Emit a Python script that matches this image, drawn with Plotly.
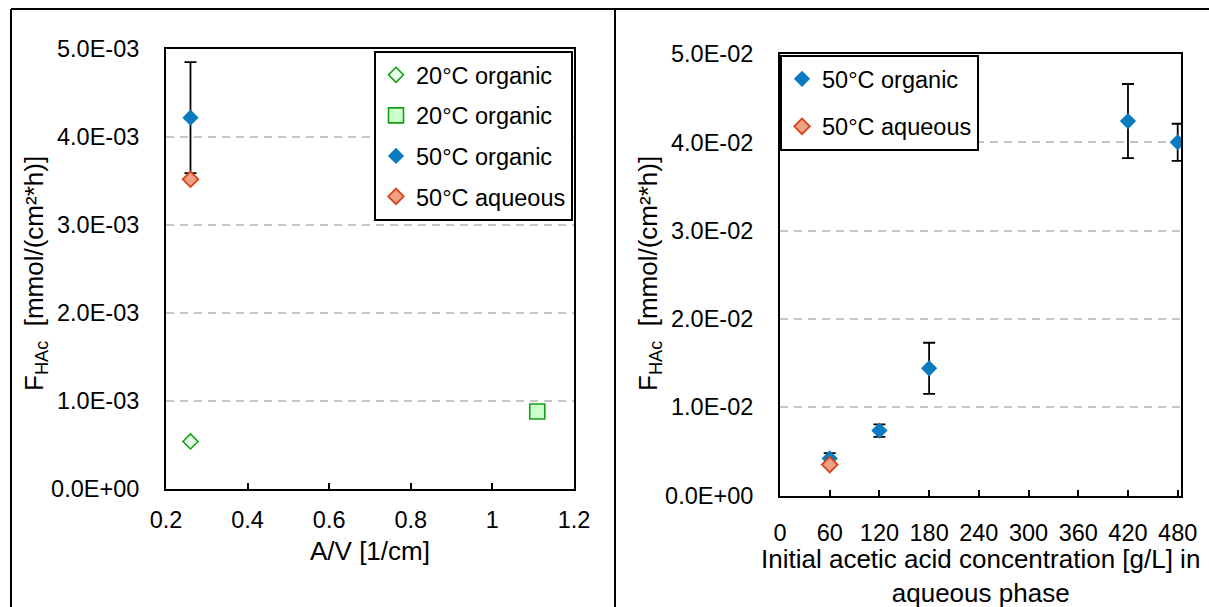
import plotly.graph_objects as go

W, H = 1209, 607

# ---- left panel: flux vs. area-to-volume ratio ----
av_20_dia = [0.26]
flux_20_dia = [5.4e-4]
av_20_sq = [1.11]
flux_20_sq = [8.8e-4]
av_50_org = [0.26]
flux_50_org = [4.22e-3]
err_50_org = [6.3e-4]
av_50_aq = [0.26]
flux_50_aq = [3.52e-3]

left_xticks = [0.2, 0.4, 0.6, 0.8, 1.0, 1.2]
left_xlabels = ["0.2", "0.4", "0.6", "0.8", "1", "1.2"]
left_yticks = [0, 1e-3, 2e-3, 3e-3, 4e-3, 5e-3]
left_ylabels = ["0.0E+00", "1.0E-03", "2.0E-03", "3.0E-03", "4.0E-03", "5.0E-03"]

# ---- right panel: flux vs. initial acetic acid concentration ----
conc_org = [60, 120, 180, 420, 480]
flux_org = [0.0042, 0.00735, 0.0144, 0.0424, 0.0400]
err_org = [0.0006, 0.0007, 0.0029, 0.0042, 0.0021]
conc_aq = [60]
flux_aq = [0.0035]

right_xticks = [0, 60, 120, 180, 240, 300, 360, 420, 480]
right_xlabels = [str(v) for v in right_xticks]
right_yticks = [0, 0.01, 0.02, 0.03, 0.04, 0.05]
right_ylabels = ["0.0E+00", "1.0E-02", "2.0E-02", "3.0E-02", "4.0E-02", "5.0E-02"]

FONT = "Liberation Sans, Arial, sans-serif"
TICK_SIZE = 23.5
TITLE_SIZE = 26
GREEN = "#12A012"
LIGHT_GREEN = "#CCFFCC"
BLUE = "#0B7BC0"
ORANGE = "#D6451B"
ORANGE_FILL = "#EFA183"


def px_x(v):
    return v / W


def px_y(v):
    return (H - v) / H


fig = go.Figure()

# left panel traces
fig.add_trace(go.Scatter(
    x=av_20_dia, y=flux_20_dia, mode="markers", name="20°C organic",
    legendgroup="a", legend="legend", xaxis="x", yaxis="y",
    marker=dict(symbol="diamond", size=11.5, color="#E8FBE8",
                line=dict(color=GREEN, width=1.6))))
fig.add_trace(go.Scatter(
    x=av_20_sq, y=flux_20_sq, mode="markers", name="20°C organic",
    legendgroup="b", legend="legend", xaxis="x", yaxis="y",
    marker=dict(symbol="square", size=15, color=LIGHT_GREEN,
                line=dict(color=GREEN, width=1.6))))
fig.add_trace(go.Scatter(
    x=av_50_org, y=flux_50_org, mode="markers", name="50°C organic",
    legendgroup="c", legend="legend", xaxis="x", yaxis="y",
    error_y=dict(type="data", array=err_50_org, color="black",
                 thickness=1.8, width=6),
    marker=dict(symbol="diamond", size=12.5, color=BLUE,
                line=dict(color=BLUE, width=0))))
fig.add_trace(go.Scatter(
    x=av_50_aq, y=flux_50_aq, mode="markers", name="50°C aqueous",
    legendgroup="d", legend="legend", xaxis="x", yaxis="y",
    marker=dict(symbol="diamond", size=12, color=ORANGE_FILL,
                line=dict(color=ORANGE, width=1.8))))

# right panel traces
fig.add_trace(go.Scatter(
    x=conc_org, y=flux_org, mode="markers", name="50°C organic",
    legendgroup="e", legend="legend2", xaxis="x2", yaxis="y2",
    error_y=dict(type="data", array=err_org, color="black",
                 thickness=1.8, width=6),
    marker=dict(symbol="diamond", size=12.5, color=BLUE,
                line=dict(color=BLUE, width=0))))
fig.add_trace(go.Scatter(
    x=conc_aq, y=flux_aq, mode="markers", name="50°C aqueous",
    legendgroup="f", legend="legend2", xaxis="x2", yaxis="y2",
    marker=dict(symbol="diamond", size=12, color=ORANGE_FILL,
                line=dict(color=ORANGE, width=1.8))))

axis_common = dict(
    showline=True, mirror=True, linecolor="black", linewidth=2,
    tickfont=dict(family=FONT, size=TICK_SIZE, color="black"),
    zeroline=False, fixedrange=True, automargin=False,
)
grid_y = dict(showgrid=True, gridcolor="#C4C4C4", gridwidth=1.5, griddash="8px,6px")

fig.update_layout(
    width=W, height=H,
    margin=dict(l=0, r=0, t=0, b=0),
    paper_bgcolor="white", plot_bgcolor="white",
    font=dict(family=FONT, color="black"),
    xaxis=dict(domain=[px_x(166), px_x(574)], range=[0.2, 1.2],
               tickvals=left_xticks, ticktext=left_xlabels,
               ticks="inside", ticklen=6, tickwidth=2, tickcolor="black",
               ticklabelstandoff=9, showgrid=False, anchor="y", **axis_common),
    yaxis=dict(domain=[px_y(489), px_y(49)], range=[0, 5e-3],
               tickvals=left_yticks, ticktext=left_ylabels,
               ticks="", ticklabelstandoff=20, anchor="x", **grid_y, **axis_common),
    xaxis2=dict(domain=[px_x(780), px_x(1181)], range=[0, 484],
                tickvals=right_xticks, ticktext=right_xlabels,
                ticks="inside", ticklen=6, tickwidth=2, tickcolor="black",
                ticklabelstandoff=15, showgrid=False, anchor="y2", **axis_common),
    yaxis2=dict(domain=[px_y(495.5), px_y(54)], range=[0, 0.05],
                tickvals=right_yticks, ticktext=right_ylabels,
                ticks="", ticklabelstandoff=20, anchor="x2", **grid_y, **axis_common),
    legend=dict(x=px_x(573), y=px_y(51), xanchor="right", yanchor="top",
                bgcolor="white", bordercolor="black", borderwidth=2,
                font=dict(family=FONT, size=TICK_SIZE, color="black"),
                tracegroupgap=7, itemwidth=30),
    legend2=dict(x=px_x(780), y=px_y(55), xanchor="left", yanchor="top",
                 bgcolor="white", bordercolor="black", borderwidth=2,
                 font=dict(family=FONT, size=TICK_SIZE, color="black"),
                 tracegroupgap=14, itemwidth=30),
    showlegend=True,
)

ytitle = "F<sub>HAc</sub>\u00a0\u00a0[mmol/(cm²*h)]"
annotations = [
    dict(text=ytitle, x=px_x(35), y=px_y(274), textangle=-90),
    dict(text=ytitle, x=px_x(649), y=px_y(274), textangle=-90),
    dict(text="A/V [1/cm]", x=px_x(370), y=px_y(551)),
    dict(text="Initial acetic acid concentration [g/L] in<br>aqueous phase",
         x=px_x(980), y=px_y(576)),
]
for a in annotations:
    fig.add_annotation(
        xref="paper", yref="paper", xanchor="center", yanchor="middle",
        showarrow=False, font=dict(family=FONT, size=TITLE_SIZE, color="black"),
        **a)

# outer frames around the two charts
frame = dict(type="line", xref="paper", yref="paper",
             line=dict(color="black", width=2))
fig.add_shape(x0=px_x(11), x1=1, y0=px_y(9), y1=px_y(9), **frame)
fig.add_shape(x0=px_x(11), x1=px_x(11), y0=px_y(9), y1=0, **frame)
fig.add_shape(x0=px_x(615), x1=px_x(615), y0=px_y(9), y1=0, **frame)

fig.write_html("out.html")
